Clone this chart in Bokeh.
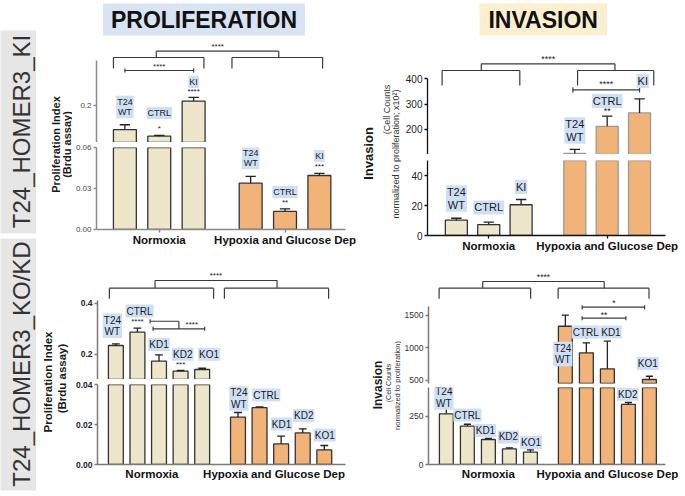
import math
from bokeh.plotting import figure
from bokeh.models import Label, FixedTicker, NumeralTickFormatter, ColumnDataSource, Range1d
from bokeh.layouts import row, column
from bokeh.embed import file_html
from bokeh.resources import INLINE
from bokeh.core.properties import value

FONT = "Liberation Sans"
BEIGE = "#ede6cb"
ORANGE = "#f1b378"
LBLUE = "#cfe0f5"
HEAD_BLUE = "#d8e3f4"
HEAD_YELLOW = "#fcefcf"
STRIP_GRAY = "#e6e6e6"

GROUPS = ["Normoxia", "Hypoxia and Glucose Dep"]
GROUP_GAP = 0.66

# ---------------- Panel A : Proliferation, T24_HOMER3_KI ----------------
A_samples = ["T24\nWT", "CTRL", "KI"]
A_norm = [0.135, 0.117, 0.212]
A_norm_err = [0.013, 0.002, 0.010]
A_hyp = [0.0339, 0.0132, 0.0395]
A_hyp_err = [0.0049, 0.0019, 0.0015]
A_norm_sig = ["", "*", "****"]
A_hyp_sig = ["", "**", "***"]
A_upper_ticks = [0.2]
A_lower_ticks = [0.0, 0.03, 0.06]

# ---------------- Panel B : Invasion, T24_HOMER3_KI ----------------
B_samples = ["T24\nWT", "CTRL", "KI"]
B_norm = [10.2, 7.3, 20.5]
B_norm_err = [1.3, 1.6, 3.5]
B_hyp = [104, 212, 265]
B_hyp_err = [16, 40, 56]
B_norm_sig = ["", "", ""]
B_hyp_sig = ["", "**", ""]
B_upper_ticks = [200, 300, 400]
B_lower_ticks = [0, 20, 40]

# ---------------- Panel C : Proliferation, T24_HOMER3_KO/KD ----------------
C_samples = ["T24\nWT", "CTRL", "KD1", "KD2", "KO1"]
C_norm = [0.2337, 0.286, 0.172, 0.1326, 0.1393]
C_norm_err = [0.0067, 0.0157, 0.025, 0.0028, 0.005]
C_hyp = [0.0237, 0.0284, 0.0103, 0.0158, 0.0073]
C_hyp_err = [0.0023, 0.0004, 0.0039, 0.0020, 0.0022]
C_norm_sig = ["", "****", "", "***", ""]
C_hyp_sig = ["", "", "", "", ""]
C_upper_ticks = [0.2, 0.4]
C_lower_ticks = [0.0, 0.02, 0.04]

# ---------------- Panel D : Invasion, T24_HOMER3_KO/KD ----------------
D_samples = ["T24\nWT", "CTRL", "KD1", "KD2", "KO1"]
D_norm = [263, 199, 130, 81.6, 64]
D_norm_err = [29, 10, 5, 5.2, 12]
D_hyp = [1331, 922, 676, 312, 511.5]
D_hyp_err = [170, 154, 425, 10, 50]
D_norm_sig = ["", "", "", "", ""]
D_hyp_sig = ["", "*", "", "", ""]
D_upper_ticks = [500, 1000, 1500]
D_lower_ticks = [0, 250]


def leg_bracket(x0, x1, y, y_end):
    return [(x0, y, x1, y), (x0, y, x0, y_end), (x1, y, x1, y_end)]


def cap_bracket(x0, x1, y, c):
    return [(x0, y, x1, y), (x0, y - c, x0, y + c), (x1, y - c, x1, y + c)]


def base_fig(w, h, xr, yr, ml=0, mr=0, mt=0, mb=0, xaxis=None, yaxis=None, bg="white"):
    p = figure(width=w, height=h, x_range=xr, y_range=yr,
               x_axis_location=xaxis, y_axis_location=yaxis,
               output_backend="svg", toolbar_location=None, tools="",
               min_border=0, min_border_left=ml, min_border_right=mr,
               min_border_top=mt, min_border_bottom=mb)
    p.outline_line_color = None
    p.grid.visible = False
    p.background_fill_color = bg
    p.border_fill_color = "white"
    return p


def add_label(p, x, y, text, size, units="data", bold=False, angle=0.0, bg=None,
              pad=0, color="#1a1a1a", align="center", lh=1.05):
    lab = Label(x=x, y=y, x_units=units, y_units=units, text=text, text_font=FONT,
                text_font_size=size, text_font_style="bold" if bold else "normal",
                text_color=color, text_align=align, text_baseline="middle",
                angle=angle, background_fill_color=bg, padding=pad,
                text_line_height=lh)
    p.add_layout(lab)


def style_axis(ax, color, width, tick_out, size, style, lcolor, standoff=2):
    ax.axis_line_color = color
    ax.axis_line_width = width
    ax.major_tick_line_color = color
    ax.major_tick_line_width = width
    ax.major_tick_in = 0
    ax.major_tick_out = tick_out
    ax.minor_tick_line_color = None
    ax.major_label_text_font = FONT
    ax.major_label_text_font_size = size
    ax.major_label_text_font_style = style
    ax.major_label_text_color = lcolor
    ax.major_label_standoff = standoff


def draw_bars(p, xs, vals, errs, fill, line, bw, cap, min_top=None):
    keep = [i for i in range(len(xs)) if min_top is None or vals[i] + errs[i] > min_top]
    if not keep:
        return
    kx = [xs[i] for i in keep]
    kv = [vals[i] for i in keep]
    ke = [vals[i] + errs[i] for i in keep]
    src = ColumnDataSource(dict(x=kx, top=kv, etop=ke,
                                cl=[x - cap for x in kx], cr=[x + cap for x in kx]))
    bars = [i for i in keep if min_top is None or vals[i] > min_top]
    if bars:
        bsrc = ColumnDataSource(dict(x=[xs[i] for i in bars], top=[vals[i] for i in bars]))
        p.vbar(x="x", top="top", bottom=0, width=bw, fill_color=fill, line_color=line,
               line_width=1.3, source=bsrc)
    p.segment(x0="x", y0="top", x1="x", y1="etop", line_color="#222222", line_width=1.3, source=src)
    p.segment(x0="cl", y0="etop", x1="cr", y1="etop", line_color="#222222", line_width=1.3, source=src)


def build_panel(c):
    n = len(c["samples"])
    xn = [float(i) for i in range(n)]
    xh = [n + GROUP_GAP + i for i in range(n)]
    xr = Range1d(*c["xr"])
    up = base_fig(c["w"], c["up_h"], xr, Range1d(*c["up_yr"]), ml=c["ml"], mr=c["mr"],
                  mt=0, mb=c.get("up_mb", 0), xaxis=None, yaxis="left")
    lo = base_fig(c["w"], c["lo_h"], xr, Range1d(*c["lo_yr"]), ml=c["ml"], mr=c["mr"],
                  mt=c["gap"], mb=c["mb"], xaxis="below", yaxis="left")
    split = c["up_yr"][0]
    draw_bars(up, xn, c["norm"], c["norm_err"], BEIGE, c["nline"], c["bw"], c["cap"], min_top=split)
    draw_bars(up, xh, c["hyp"], c["hyp_err"], ORANGE, c["hline"], c["bw"], c["cap"], min_top=split)
    draw_bars(lo, xn, c["norm"], c["norm_err"], BEIGE, c["nline"], c["bw"], c["cap"])
    draw_bars(lo, xh, c["hyp"], c["hyp_err"], ORANGE, c["hline"], c["bw"], c["cap"])

    # y axes
    ua, la = up.yaxis[0], lo.yaxis[0]
    ua.ticker = FixedTicker(ticks=c["up_ticks"])
    la.ticker = FixedTicker(ticks=c["lo_ticks"])
    ua.formatter = NumeralTickFormatter(format=c["up_fmt"])
    la.formatter = NumeralTickFormatter(format=c["lo_fmt"])
    ua.bounds = c["up_bounds"]
    la.bounds = c["lo_bounds"]
    for ax in (ua, la):
        style_axis(ax, c["acolor"], c["awidth"], 3, c["tick_size"], c["tick_style"], c["tick_color"])

    # x axis with group names
    off = c.get("glab_off", 0.0)
    gpos = [(n - 1) / 2 + off, n + GROUP_GAP + (n - 1) / 2 + off]
    xa = lo.xaxis[0]
    xa.ticker = FixedTicker(ticks=gpos)
    xa.major_label_overrides = {gpos[0]: GROUPS[0], gpos[1]: GROUPS[1]}
    style_axis(xa, c["acolor"], c["awidth"], c["xtick_out"], "11.5px", "bold", "#111111",
               standoff=c["xstand"])

    # brackets
    segs = c["brackets"]
    up.segment(x0=[s[0] for s in segs], y0=[s[1] for s in segs],
               x1=[s[2] for s in segs], y1=[s[3] for s in segs],
               line_color="#3a3a3a", line_width=1.2)
    bt = c["bracket_text"]
    up.text(x=[b[0] for b in bt], y=[b[1] for b in bt], text=[b[2] for b in bt],
            text_font=value(FONT), text_font_size=c["star_size"], text_align="center",
            text_baseline="middle", text_color="#222222")

    # sample labels and significance marks
    for xs, ly, dx, sig, sy in ((xn, c["norm_lab_y"], c["norm_lab_dx"], c["norm_sig"], c["norm_sig_y"]),
                                (xh, c["hyp_lab_y"], c["hyp_lab_dx"], c["hyp_sig"], c["hyp_sig_y"])):
        for i in range(n):
            tgt = up if ly[i] >= split else lo
            add_label(tgt, xs[i] + dx[i], ly[i], c["samples"][i], c["lab_size"], bg=LBLUE,
                      pad=1, color="#1a1a1a")
            if sig[i]:
                tgt2 = up if sy[i] >= split else lo
                tgt2.text(x=[xs[i]], y=[sy[i]], text=[sig[i]], text_font=value(FONT),
                          text_font_size=c["star_size"], text_align="center",
                          text_baseline="middle", text_color="#222222")
    return up, lo


A = dict(samples=A_samples, norm=A_norm, norm_err=A_norm_err, hyp=A_hyp, hyp_err=A_hyp_err,
         w=286, up_h=142, lo_h=114, ml=23, mr=13, gap=5, mb=27,
         xr=(-0.826, 6.42), up_yr=(0.1, 0.48378), lo_yr=(0.0, 0.06),
         up_ticks=A_upper_ticks, lo_ticks=A_lower_ticks, up_fmt="0.0", lo_fmt="0.00",
         up_bounds=(0.1, 0.322), lo_bounds=(0.0, 0.06),
         acolor="#8a8a8a", awidth=1.5, tick_size="8px", tick_style="normal", tick_color="#444444",
         xtick_out=3, xstand=1, nline="#333333", hline="#333333", bw=0.667, cap=0.15,
         lab_size="9px", star_size="8px",
         norm_lab_y=[0.196, 0.180, 0.2635], norm_lab_dx=[0, 0, 0],
         hyp_lab_y=[0.0523, 0.0274, 0.0538], hyp_lab_dx=[0, 0, 0],
         norm_sig=A_norm_sig, norm_sig_y=[0, 0.138, 0.238],
         hyp_sig=A_hyp_sig, hyp_sig_y=[0, 0.020, 0.0461],
         brackets=leg_bracket(-0.333, 2.30, 0.3297, 0.30) + leg_bracket(3.116, 5.754, 0.3297, 0.30)
         + leg_bracket(0.913, 4.478, 0.3468, 0.3297) + cap_bracket(0.0, 2.0, 0.2946, 0.0054),
         bracket_text=[(2.70, 0.3595, "****"), (1.0, 0.3054, "****")])

B = dict(samples=B_samples, norm=B_norm, norm_err=B_norm_err, hyp=B_hyp, hyp_err=B_hyp_err,
         w=283, up_h=154, lo_h=102, ml=24, mr=20, gap=6, mb=21,
         xr=(-0.892, 6.462), up_yr=(100, 711.1), lo_yr=(0, 50),
         up_ticks=B_upper_ticks, lo_ticks=B_lower_ticks, up_fmt="0", lo_fmt="0",
         up_bounds=(100, 400), lo_bounds=(0, 50),
         acolor="#111111", awidth=1.3, tick_size="10px", tick_style="normal", tick_color="#222222",
         xtick_out=3, xstand=1, nline="#333333", hline="#9a9a9a", bw=0.68, cap=0.16,
         lab_size="11px", star_size="9px",
         norm_lab_y=[24.7, 18.7, 32.3], norm_lab_dx=[0, 0, 0],
         hyp_lab_y=[195, 312, 391.7], hyp_lab_dx=[0, 0, 0.1],
         norm_sig=B_norm_sig, norm_sig_y=[0, 0, 0],
         hyp_sig=B_hyp_sig, hyp_sig_y=[0, 274.6, 0],
         brackets=leg_bracket(-0.44, 1.96, 433.3, 373.8) + leg_bracket(3.745, 6.10, 433.3, 373.8)
         + leg_bracket(0.77, 4.90, 460, 433.3) + cap_bracket(3.6, 5.66, 356.7, 10.6),
         bracket_text=[(2.84, 477, "****"), (4.63, 377.8, "****")])

C = dict(samples=C_samples, norm=C_norm, norm_err=C_norm_err, hyp=C_hyp, hyp_err=C_hyp_err,
         w=286, up_h=123, lo_h=117, ml=23, mr=13, gap=5, mb=32,
         xr=(-0.851, 10.643), up_yr=(0.1, 0.5837), lo_yr=(0.0, 0.04),
         up_ticks=C_upper_ticks, lo_ticks=C_lower_ticks, up_fmt="0.0", lo_fmt="0.00",
         up_bounds=(0.1, 0.41), lo_bounds=(0.0, 0.04),
         acolor="#7a7a7a", awidth=1.5, tick_size="8.5px", tick_style="bold", tick_color="#222222",
         xtick_out=0, xstand=3, nline="#333333", hline="#333333", bw=0.69, cap=0.18,
         lab_size="10px", star_size="8px", glab_off=-0.33,
         norm_lab_y=[0.311, 0.369, 0.2376, 0.1995, 0.1995], norm_lab_dx=[-0.16, 0.1, 0, 0.1, 0.32],
         hyp_lab_y=[0.033, 0.03475, 0.02025, 0.0245, 0.01475], hyp_lab_dx=[0.04, 0.31, 0.02, 0.05, 0.02],
         norm_sig=C_norm_sig, norm_sig_y=[0, 0.330, 0, 0.159, 0],
         hyp_sig=C_hyp_sig, hyp_sig_y=[0, 0, 0, 0, 0],
         brackets=leg_bracket(-0.30, 4.53, 0.459, 0.4173) + leg_bracket(5.03, 9.86, 0.459, 0.4173)
         + leg_bracket(1.816, 7.47, 0.4893, 0.459)
         + [(1.586, 0.329, 2.92, 0.329), (1.586, 0.321, 1.586, 0.337), (2.92, 0.329, 2.92, 0.2994)]
         + cap_bracket(1.724, 4.115, 0.2994, 0.008),
         bracket_text=[(4.64, 0.509, "****"), (3.52, 0.318, "****")])

D = dict(samples=D_samples, norm=D_norm, norm_err=D_norm_err, hyp=D_hyp, hyp_err=D_hyp_err,
         w=284, up_h=130, up_mb=3, lo_h=110, ml=25, mr=20, gap=1, mb=32,
         xr=(-0.849, 10.425), up_yr=(450, 2403.8), lo_yr=(0, 400),
         up_ticks=D_upper_ticks, lo_ticks=D_lower_ticks, up_fmt="0", lo_fmt="0",
         up_bounds=(450, 1640), lo_bounds=(0, 400),
         acolor="#7a7a7a", awidth=1.5, tick_size="8.5px", tick_style="normal", tick_color="#333333",
         xtick_out=0, xstand=3, nline="#333333", hline="#333333", bw=0.66, cap=0.17,
         lab_size="10px", star_size="8.5px",
         norm_lab_y=[348, 257, 177, 143, 114], norm_lab_dx=[-0.12, 0, -0.14, -0.05, 0.03],
         hyp_lab_y=[904, 1242, 1242, 365, 758], hyp_lab_dx=[-0.12, -0.03, 0.17, -0.03, -0.08],
         norm_sig=D_norm_sig, norm_sig_y=[0, 0, 0, 0, 0],
         hyp_sig=D_hyp_sig, hyp_sig_y=[0, 1127, 0, 0, 0],
         brackets=leg_bracket(-0.344, 4.01, 1916, 1753) + leg_bracket(5.316, 9.64, 1916, 1753)
         + leg_bracket(1.73, 7.51, 2019, 1916) + cap_bracket(6.46, 9.43, 1624, 31)
         + cap_bracket(6.46, 8.54, 1455, 31),
         bracket_text=[(4.62, 2081, "****"), (7.97, 1681, "*"), (7.5, 1511, "**")])

A_up, A_lo = build_panel(A)
B_up, B_lo = build_panel(B)
C_up, C_lo = build_panel(C)
D_up, D_lo = build_panel(D)

# headers
add_label(A_up, 107.5, 123, "PROLIFERATION", "23px", units="screen", bold=True, bg=HEAD_BLUE,
          pad=dict(left=8, right=8, top=3, bottom=3), color="#111111")
add_label(B_up, 115.7, 135, "INVASION", "23px", units="screen", bold=True, bg=HEAD_YELLOW,
          pad=dict(left=9, right=9, top=3, bottom=3), color="#111111")

R90 = math.pi / 2
# y-axis titles
A_t = base_fig(36, 256, Range1d(0, 1), Range1d(0, 1))
add_label(A_t, 19, 112, "Proliferation Index", "11px", units="screen", bold=True, angle=R90)
add_label(A_t, 30, 112, "(Brdu assay)", "11px", units="screen", bold=True, angle=R90)

B_t = base_fig(44, 256, Range1d(0, 1), Range1d(0, 1))
add_label(B_t, 10, 103, "Invasion", "13px", units="screen", bold=True, angle=R90)
add_label(B_t, 28, 147, "(Cell Counts", "9px", units="screen", angle=R90, color="#333333")
add_label(B_t, 37, 102.5, "normalized to proliferation; x10\u00b2)", "9px", units="screen", angle=R90,
          color="#333333")

C_t = base_fig(36, 240, Range1d(0, 1), Range1d(0, 1))
add_label(C_t, 11, 114.5, "Proliferation Index", "11.5px", units="screen", bold=True, angle=R90)
add_label(C_t, 25, 118, "(Brdu assay)", "11.5px", units="screen", bold=True, angle=R90)

D_t = base_fig(43, 240, Range1d(0, 1), Range1d(0, 1))
add_label(D_t, 19, 111.5, "Invasion", "12px", units="screen", bold=True, angle=R90)
add_label(D_t, 30, 113.5, "(Cell Counts", "7px", units="screen", angle=R90, color="#333333")
add_label(D_t, 39, 111, "normalized to proliferation)", "7.5px", units="screen", angle=R90,
          color="#333333")

# side strips
S1 = base_fig(36, 236, Range1d(0, 1), Range1d(0, 1), mt=30, mb=3, bg=STRIP_GRAY)
add_label(S1, 21, 102, "T24_HOMER3_KI", "24px", units="screen", angle=R90, color="#333333")
S2 = base_fig(36, 260, Range1d(0, 1), Range1d(0, 1), mt=2, mb=6, bg=STRIP_GRAY)
add_label(S2, 21, 126.5, "T24_HOMER3_KO/KD", "24px", units="screen", angle=R90, color="#333333")

top_row = row(A_t, column(A_up, A_lo), B_t, column(B_up, B_lo))
bot_row = row(C_t, column(C_up, C_lo), D_t, column(D_up, D_lo))
layout = row(column(S1, S2), column(top_row, bot_row))

open("out.html", "w").write(file_html(layout, INLINE))
